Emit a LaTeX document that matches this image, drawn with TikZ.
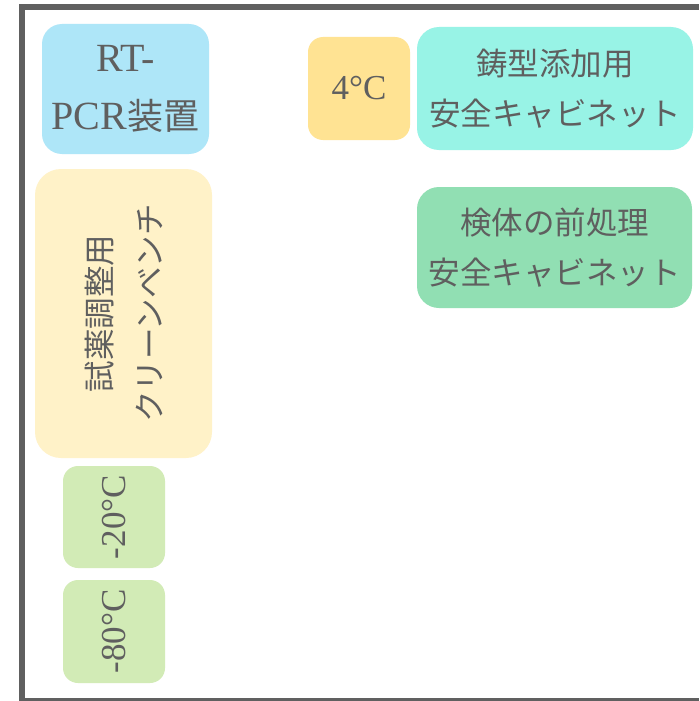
\documentclass[tikz,border=0pt]{standalone}
\usepackage{fontspec}
\setmainfont{Liberation Serif}
\newfontfamily\cjk[Scale=0.9]{Noto Sans CJK JP}
\definecolor{txt}{HTML}{5F5F5F}
\definecolor{framec}{HTML}{606060}
\definecolor{cBlue}{HTML}{AEE6F8}
\definecolor{cOrange}{HTML}{FFE393}
\definecolor{cAqua}{HTML}{98F3E6}
\definecolor{cGreen}{HTML}{91DFB3}
\definecolor{cCream}{HTML}{FFF2C8}
\definecolor{cLime}{HTML}{D2EBB6}
\tikzset{
  box/.style={inner sep=0pt, outer sep=0pt, text=txt, align=center, draw=none,
    font=\fontsize{35}{50}\selectfont},
}
\begin{document}
\begin{tikzpicture}[x=1pt,y=-1pt]
\useasboundingbox (0,0) rectangle (699,701);
\fill[white] (0,0) rectangle (699,701);
\draw[framec, line width=5.5pt] (699,6.8) -- (21.8,6.8) -- (21.8,700.3) -- (699,700.3);

\node[box, fill=cBlue, minimum width=167pt, minimum height=130pt, rounded corners=20pt, font=\fontsize{40}{58}\selectfont] (rtpcr) at (125.5,89) {RT-\\PCR{\cjk 装置}};
\node[box, fill=cOrange, minimum width=102pt, minimum height=103pt, rounded corners=15pt] (four) at (359,88.5) {4°C};
\node[box, fill=cAqua, minimum width=276pt, minimum height=123pt, rounded corners=22pt] (cast) at (555,88.5) {\cjk 鋳型添加用\\\cjk 安全キャビネット};
\node[box, fill=cGreen, minimum width=275pt, minimum height=121pt, rounded corners=22pt] (pre) at (554.5,247.5) {\cjk 検体の前処理\\\cjk 安全キャビネット};
\node[box, fill=cCream, rotate=90, minimum width=289pt, minimum height=177pt, rounded corners=26pt] (bench) at (123.5,313.5) {\cjk 試薬調整用\\\cjk クリーンベンチ};
\node[box, fill=cLime, rotate=90, minimum width=102pt, minimum height=102pt, rounded corners=15pt] (m20) at (114,517) {-20°C};
\node[box, fill=cLime, rotate=90, minimum width=103pt, minimum height=102pt, rounded corners=15pt] (m80) at (114,631.5) {-80°C};
\end{tikzpicture}
\end{document}
